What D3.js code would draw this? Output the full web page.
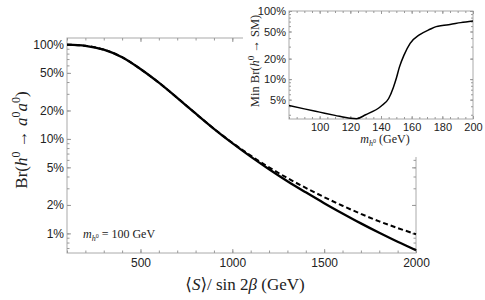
<!DOCTYPE html>
<html>
<head>
<meta charset="utf-8">
<script src="https://cdn.jsdelivr.net/npm/d3@7"></script>
<style>
  body { margin: 0; background: #fff; }
  svg { display: block; }
  .tick text { font-family: "Liberation Sans", Arial, sans-serif; fill: #222; }
  .domain { display: none; }
  .tick line { stroke: #999; }
  .serif { font-family: "Liberation Serif", "DejaVu Serif", serif; fill: #222; }
</style>
</head>
<body>
<svg width="485" height="300"></svg>
<script>
// main panel: Br(h0 -> a0 a0) vs <S>/sin2beta
var sVals = [100, 200, 300, 400, 500, 600, 700, 800, 900, 1000, 1100, 1200, 1300, 1400, 1500, 1600, 1700, 1800, 1900, 2000];
var brSolid = [0.995, 0.968, 0.883, 0.733, 0.550, 0.394, 0.272, 0.186, 0.128, 0.0902, 0.0650, 0.0478, 0.0357, 0.0272, 0.0209, 0.01626, 0.01276, 0.01014, 0.00815, 0.00664];
var brDashed = [0.995, 0.968, 0.883, 0.733, 0.550, 0.394, 0.272, 0.186, 0.128, 0.0910, 0.0665, 0.0500, 0.0385, 0.0303, 0.0242, 0.0196, 0.0161, 0.0134, 0.0114, 0.0098];

// inset: Min Br(h0 -> SM) vs m_h0
var mH = [80, 90, 100, 110, 120, 124, 130, 140, 145, 148, 150, 152, 155, 159, 165, 172, 176, 180, 185, 192, 200];
var minBr = [0.041, 0.0366, 0.0328, 0.0294, 0.0266, 0.0262, 0.0300, 0.040, 0.052, 0.075, 0.103, 0.150, 0.225, 0.335, 0.445, 0.54, 0.59, 0.612, 0.635, 0.675, 0.715];

var mainYTicks = [0.01, 0.02, 0.05, 0.1, 0.2, 0.5, 1];
var mainXTicks = [500, 1000, 1500, 2000];
var insetYTicks = [0.05, 0.1, 0.2, 0.5, 1];
var insetXTicks = [100, 120, 140, 160, 180, 200];

var svg = d3.select("svg");
var pct = function(d) { return Math.round(d * 100) + "%"; };

// log minor ticks between lo and hi
function logMinors(lo, hi) {
  var out = [];
  for (var e = -4; e <= 1; e++) {
    for (var k = 1; k < 10; k++) {
      var v = k * Math.pow(10, e);
      if (v >= lo && v <= hi) out.push(v);
    }
  }
  return out;
}

function frame(g, x, y, xMaj, xMin, yMaj, yMin, fs, big, small, pad) {
  var x0 = x.range()[0], x1 = x.range()[1];
  var y0 = y.range()[0], y1 = y.range()[1];
  g.append("rect")
    .attr("x", x0).attr("y", y1)
    .attr("width", x1 - x0).attr("height", y0 - y1)
    .attr("fill", "none").attr("stroke", "#aaa").attr("stroke-width", 1);

  // minors
  g.append("g").attr("transform", "translate(0," + y0 + ")")
    .call(d3.axisBottom(x).tickValues(xMin).tickSize(-small).tickFormat(""));
  g.append("g").attr("transform", "translate(0," + y1 + ")")
    .call(d3.axisTop(x).tickValues(xMin).tickSize(-small).tickFormat(""));
  g.append("g").attr("transform", "translate(" + x0 + ",0)")
    .call(d3.axisLeft(y).tickValues(yMin).tickSize(-small).tickFormat(""));
  g.append("g").attr("transform", "translate(" + x1 + ",0)")
    .call(d3.axisRight(y).tickValues(yMin).tickSize(-small).tickFormat(""));

  // majors
  var bx = g.append("g").attr("transform", "translate(0," + y0 + ")")
    .call(d3.axisBottom(x).tickValues(xMaj).tickSize(-big).tickPadding(pad).tickFormat(d3.format("d")));
  bx.selectAll("text").style("font-size", fs + "px");
  g.append("g").attr("transform", "translate(0," + y1 + ")")
    .call(d3.axisTop(x).tickValues(xMaj).tickSize(-big).tickFormat(""));
  var ly = g.append("g").attr("transform", "translate(" + x0 + ",0)")
    .call(d3.axisLeft(y).tickValues(yMaj).tickSize(-big).tickPadding(3).tickFormat(pct));
  ly.selectAll("text").style("font-size", fs + "px");
  g.append("g").attr("transform", "translate(" + x1 + ",0)")
    .call(d3.axisRight(y).tickValues(yMaj).tickSize(-big).tickFormat(""));
}

// ---- main plot frame
var x = d3.scaleLinear().domain([100, 2000]).range([67, 416]);
var y = d3.scaleLog().domain([0.0062, 1.17]).range([253, 38]);

var main = svg.append("g");
var xMinor = d3.range(100, 2001, 100);
frame(main, x, y, mainXTicks, xMinor, mainYTicks, logMinors(0.0062, 1.17), 12, 4, 2.5, 5);

// inset background covers the top right corner of the main frame
svg.append("rect")
  .attr("x", 243).attr("y", 0).attr("width", 242).attr("height", 157)
  .attr("fill", "#fff");

// main curves drawn above the inset background
var curves = svg.append("g");
var line = d3.line()
  .x(function(d) { return x(d[0]); })
  .y(function(d) { return y(d[1]); })
  .curve(d3.curveCatmullRom.alpha(0.5));

curves.append("path")
  .datum(d3.zip(sVals, brSolid))
  .attr("d", line)
  .attr("fill", "none").attr("stroke", "#000").attr("stroke-width", 2.3);

curves.append("path")
  .datum(d3.zip(sVals, brDashed))
  .attr("d", line)
  .attr("fill", "none").attr("stroke", "#000").attr("stroke-width", 2.0)
  .attr("stroke-dasharray", "5,3");

// labels
var yl = main.append("text").attr("class", "serif")
  .attr("transform", "translate(27,140) rotate(-90)")
  .attr("text-anchor", "middle").style("font-size", "17px");
yl.append("tspan").text("Br(");
yl.append("tspan").style("font-style", "italic").text("h");
yl.append("tspan").attr("dy", -7).style("font-size", "12px").text("0");
yl.append("tspan").attr("dy", 7).text(" \u2192 ");
yl.append("tspan").style("font-style", "italic").text("a");
yl.append("tspan").attr("dy", -7).style("font-size", "12px").text("0");
yl.append("tspan").attr("dy", 7).style("font-style", "italic").text("a");
yl.append("tspan").attr("dy", -7).style("font-size", "12px").text("0");
yl.append("tspan").attr("dy", 7).text(")");

var xl = main.append("text").attr("class", "serif")
  .attr("x", 245).attr("y", 290)
  .attr("text-anchor", "middle").style("font-size", "17px");
xl.append("tspan").text("\u27E8");
xl.append("tspan").style("font-style", "italic").text("S");
xl.append("tspan").text("\u27E9/ sin 2");
xl.append("tspan").style("font-style", "italic").text("\u03B2");
xl.append("tspan").text(" (GeV)");

var ann = main.append("text").attr("class", "serif")
  .attr("x", 83).attr("y", 238).style("font-size", "12px");
ann.append("tspan").style("font-style", "italic").text("m");
ann.append("tspan").attr("dy", 3).style("font-size", "8px").style("font-style", "italic").text("h");
ann.append("tspan").attr("dy", -3).style("font-size", "6px").text("0");
ann.append("tspan").attr("dy", 0).text(" = 100 GeV");

// ---- inset
var inset = svg.append("g");
var ix = d3.scaleLinear().domain([80, 200]).range([289, 473]);
var iy = d3.scaleLog().domain([0.026, 1]).range([119, 11]);
frame(inset, ix, iy, insetXTicks, d3.range(80, 201, 5), insetYTicks, logMinors(0.026, 1), 11, 3, 2, 4);

inset.append("path")
  .datum(d3.zip(mH, minBr))
  .attr("d", d3.line()
    .x(function(d) { return ix(d[0]); })
    .y(function(d) { return iy(d[1]); })
    .curve(d3.curveMonotoneX))
  .attr("fill", "none").attr("stroke", "#000").attr("stroke-width", 1.5);

var iyl = inset.append("text").attr("class", "serif")
  .attr("transform", "translate(259,61) rotate(-90)")
  .attr("text-anchor", "middle").style("font-size", "12.5px");
iyl.append("tspan").text("Min Br(");
iyl.append("tspan").style("font-style", "italic").text("h");
iyl.append("tspan").attr("dy", -5).style("font-size", "9px").text("0");
iyl.append("tspan").attr("dy", 5).text(" \u2192 SM)");

var ixl = inset.append("text").attr("class", "serif")
  .attr("x", 385).attr("y", 143)
  .attr("text-anchor", "middle").style("font-size", "12px");
ixl.append("tspan").style("font-style", "italic").text("m");
ixl.append("tspan").attr("dy", 3).style("font-size", "8px").style("font-style", "italic").text("h");
ixl.append("tspan").attr("dy", -3).style("font-size", "6px").text("0");
ixl.append("tspan").text(" (GeV)");
</script>
</body>
</html>
